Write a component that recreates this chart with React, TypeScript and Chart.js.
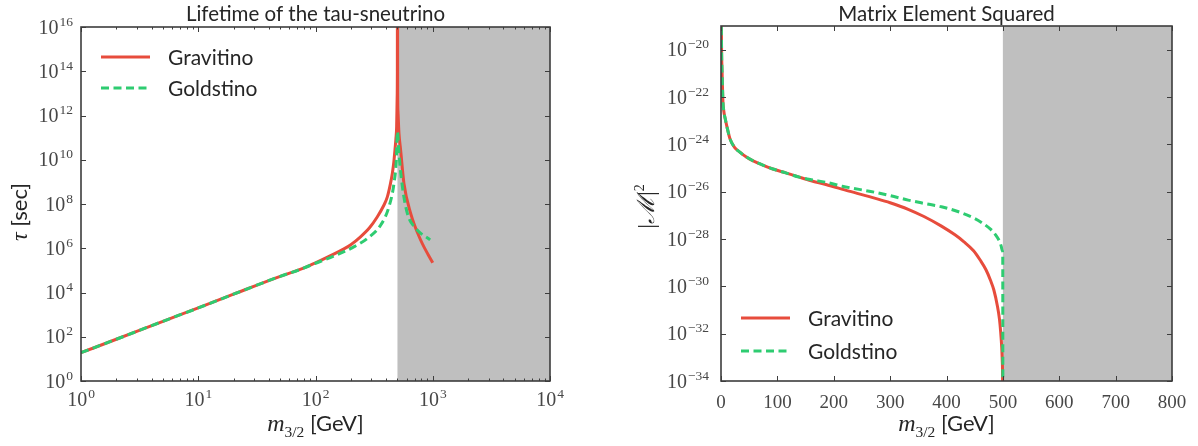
import React, { useEffect, useRef } from "react";
import { Chart, registerables } from "chart.js";

Chart.register(...registerables);

// ---------- Left panel: lifetime of the tau-sneutrino ----------
const leftTitle = "Lifetime of the tau-sneutrino";
const gravitinoMassLeft = [1, 2, 5, 10, 20, 50, 74, 100, 143, 170, 200, 242, 290, 336, 380, 410, 435, 452, 466, 476, 485, 492, 497, 499, 500, 502, 505, 515, 532, 568, 649, 790, 1000];
const gravitinoTau = [1.9e1, 7.7e1, 5.0e2, 2.0e3, 8.4e3, 5.4e4, 1.1e5, 2.2e5, 5.4e5, 8.7e5, 1.45e6, 3.3e6, 8.7e6, 2.6e7, 8.1e7, 2.1e8, 7.9e8, 2.4e9, 8.1e9, 2.75e10, 8.9e10, 3.1e11, 6.3e12, 1e14, 1e20, 1e13, 1.5e12, 1.6e11, 2.8e10, 8.5e8, 3.7e7, 2.3e6, 2.2e5];
const goldstinoMassLeft = [1, 2, 5, 10, 20, 50, 74, 100, 143, 212, 276, 359, 423, 467, 489, 500, 515, 551, 608, 716, 950];
const goldstinoTau = [1.9e1, 7.7e1, 5.0e2, 2.0e3, 8.4e3, 5.4e4, 1.1e5, 2.1e5, 4.4e5, 1.15e6, 2.75e6, 1.1e7, 7.4e7, 8.5e8, 9.8e9, 1.9e11, 1.95e10, 6.0e8, 3.7e7, 7.9e6, 2.4e6];
const leftXMajorTicks = [1, 10, 100, 1000, 10000];
const leftYTicks = [1e0, 1e2, 1e4, 1e6, 1e8, 1e10, 1e12, 1e14, 1e16];
const leftShadeFrom = 500;

// ---------- Right panel: matrix element squared ----------
const rightTitle = "Matrix Element Squared";
const gravitinoMassRight = [0.5, 1, 2, 3.5, 5, 7.5, 11, 16, 24, 34, 45, 57, 75, 92, 115, 139, 160, 186, 227, 274, 300, 332, 360, 391, 415, 431, 448, 460, 470, 478, 484, 490, 494, 496, 498, 499, 499.6, 500];
const gravitinoM2 = [3e-19, 1e-20, 1e-21, 6e-23, 2.5e-23, 1.2e-23, 5e-24, 1.7e-24, 7.5e-25, 4.6e-25, 2.9e-25, 2.0e-25, 1.3e-25, 9.1e-26, 6.2e-26, 4.1e-26, 2.9e-26, 2.0e-26, 1.05e-26, 5.2e-27, 3.4e-27, 1.8e-27, 8.9e-28, 3.5e-28, 1.5e-28, 7.6e-29, 3.2e-29, 1.26e-29, 5e-30, 1.8e-30, 7e-31, 1.6e-31, 4e-32, 1.26e-32, 2.5e-33, 6.3e-34, 5e-35, 1e-40];
const goldstinoMassRight = [0.5, 1, 2, 3.5, 5, 7.5, 11, 16, 24, 34, 45, 57, 75, 92, 115, 139, 160, 186, 215, 245, 274, 300, 332, 360, 391, 420, 449, 465, 478, 488, 494, 497, 499, 499.8, 500];
const goldstinoM2 = [3e-19, 1e-20, 1e-21, 6e-23, 2.5e-23, 1.2e-23, 5e-24, 1.7e-24, 7.5e-25, 4.6e-25, 2.9e-25, 2.0e-25, 1.3e-25, 9.1e-26, 6.2e-26, 4.1e-26, 3.2e-26, 2.5e-26, 1.7e-26, 1.25e-26, 9.3e-27, 6.8e-27, 4.4e-27, 3.2e-27, 2.3e-27, 1.45e-27, 7.6e-28, 4.5e-28, 2.6e-28, 1.4e-28, 8e-29, 5e-29, 3.2e-29, 2e-29, 1e-40];
const rightXTicks = [0, 100, 200, 300, 400, 500, 600, 700, 800];
const rightYTicks = [1e-34, 1e-32, 1e-30, 1e-28, 1e-26, 1e-24, 1e-22, 1e-20];
const rightShadeFrom = 500;

const seriesNames = ["Gravitino", "Goldstino"];
const RED = "#e74c3c";
const GREEN = "#2ecc71";
const SHADE = "#bfbfbf";
const FRAME = "#3d3d3d";
const TEXT = "#262626";
const TICKTEXT = "#474747";
const SERIF = '"Liberation Serif", "DejaVu Serif", serif';
const SANS = 'Lato, "DejaVu Sans", sans-serif';

const isPow10 = (v: number) => v > 0 && Math.abs(Math.log10(v) - Math.round(Math.log10(v))) < 1e-9;
const expText = (v: number) => String(Math.round(Math.log10(v))).replace("-", "−");
const powLabel = (v: number) => "10^" + String(Math.round(Math.log10(v)));

type Run = { t: string; f: string; dy?: number };
function drawRuns(ctx: CanvasRenderingContext2D, runs: Run[], x: number, y: number, rotate: boolean) {
  let w = 0;
  for (const r of runs) { ctx.font = r.f; w += ctx.measureText(r.t).width; }
  ctx.save();
  ctx.translate(x, y);
  if (rotate) ctx.rotate(-Math.PI / 2);
  ctx.fillStyle = TEXT;
  ctx.textBaseline = "alphabetic";
  ctx.textAlign = "left";
  let cx = -w / 2;
  for (const r of runs) { ctx.font = r.f; ctx.fillText(r.t, cx, r.dy || 0); cx += ctx.measureText(r.t).width; }
  ctx.restore();
}

const BASEFONT = `20px ${SERIF}`;
const SUPFONT = `13.5px ${SERIF}`;
function drawPow(ctx: CanvasRenderingContext2D, v: number, x: number, baseline: number, align: "center" | "right") {
  const e = expText(v);
  ctx.font = BASEFONT;
  const wb = ctx.measureText("10").width;
  ctx.font = SUPFONT;
  const we = ctx.measureText(e).width;
  const total = wb + 1 + we;
  const x0 = align === "right" ? x - total : x - total / 2;
  ctx.fillStyle = TICKTEXT;
  ctx.textAlign = "left";
  ctx.textBaseline = "alphabetic";
  ctx.font = BASEFONT;
  ctx.fillText("10", x0, baseline);
  ctx.font = SUPFONT;
  ctx.fillText(e, x0 + wb + 1, baseline - 8);
}

type DecorCfg = {
  title: string;
  shadeFrom: number;
  yTitle: Run[];
  yTitleX: number;
  yTitleDY: number;
  legendTop: boolean;
  isMajorX: (v: number) => boolean;
  powX: boolean;
  yLabelPad: number;
};

const xTitleRuns: Run[] = [
  { t: "m", f: `italic 24px ${SERIF}` },
  { t: "3/2", f: `15.5px ${SERIF}`, dy: 6 },
  { t: " [GeV]", f: `22px ${SANS}` },
];

function makeDecor(cfg: DecorCfg) {
  return {
    id: "decor",
    beforeDatasetsDraw(chart: any) {
      const { ctx, chartArea: a, scales } = chart;
      const px = scales.x.getPixelForValue(cfg.shadeFrom);
      ctx.save();
      ctx.fillStyle = SHADE;
      ctx.fillRect(px, a.top, a.right - px, a.bottom - a.top);
      ctx.restore();
    },
    afterDatasetsDraw(chart: any) {
      const { ctx, chartArea: a, scales } = chart;
      const xs = scales.x;
      const ys = scales.y;
      ctx.save();
      ctx.strokeStyle = FRAME;
      ctx.lineWidth = 1;
      ctx.beginPath();
      for (const t of xs.ticks) {
        const p = Math.round(xs.getPixelForValue(t.value)) + 0.5;
        if (p < a.left - 1 || p > a.right + 1) continue;
        const len = cfg.isMajorX(t.value) ? 5 : 2.5;
        ctx.moveTo(p, a.bottom); ctx.lineTo(p, a.bottom - len);
        ctx.moveTo(p, a.top); ctx.lineTo(p, a.top + len);
      }
      for (const t of ys.ticks) {
        const p = Math.round(ys.getPixelForValue(t.value)) + 0.5;
        if (p < a.top - 1 || p > a.bottom + 1) continue;
        ctx.moveTo(a.left, p); ctx.lineTo(a.left + 5, p);
        ctx.moveTo(a.right, p); ctx.lineTo(a.right - 5, p);
      }
      ctx.stroke();
      ctx.lineWidth = 1.6;
      ctx.strokeRect(a.left, a.top, a.right - a.left, a.bottom - a.top);
      ctx.restore();

      // power-of-ten tick labels, placed from the scales' own ticks
      ctx.save();
      for (const t of ys.ticks) {
        const p = ys.getPixelForValue(t.value);
        drawPow(ctx, t.value, a.left - cfg.yLabelPad, p + 6.5, "right");
      }
      if (cfg.powX) {
        for (const t of xs.ticks) {
          if (!isPow10(t.value)) continue;
          drawPow(ctx, t.value, xs.getPixelForValue(t.value), a.bottom + 25, "center");
        }
      }
      ctx.restore();

      // title
      ctx.save();
      ctx.fillStyle = TEXT;
      ctx.font = `20.5px ${SANS}`;
      ctx.textAlign = "center";
      ctx.textBaseline = "alphabetic";
      ctx.fillText(cfg.title, (a.left + a.right) / 2, 21);
      ctx.restore();

      // axis titles
      drawRuns(ctx, xTitleRuns, (a.left + a.right) / 2, 431, false);
      drawRuns(ctx, cfg.yTitle, cfg.yTitleX, (a.top + a.bottom) / 2 + cfg.yTitleDY, true);

      // legend
      const ds = chart.data.datasets;
      const rowY = cfg.legendTop ? [a.top + 30, a.top + 61] : [a.bottom - 63, a.bottom - 30];
      ctx.save();
      for (let i = 0; i < ds.length; i++) {
        const y = rowY[i];
        ctx.strokeStyle = ds[i].borderColor;
        ctx.lineWidth = 3;
        ctx.setLineDash(ds[i].borderDash || []);
        ctx.beginPath();
        ctx.moveTo(a.left + 20, y);
        ctx.lineTo(a.left + 69, y);
        ctx.stroke();
        ctx.setLineDash([]);
        ctx.fillStyle = TEXT;
        ctx.font = `21px ${SANS}`;
        ctx.textBaseline = "alphabetic";
        ctx.textAlign = "left";
        ctx.fillText(ds[i].label, a.left + 87, y + 7.5);
      }
      ctx.restore();
    },
  };
}

function pts(xs: number[], ys: number[]) {
  return xs.map((x, i) => ({ x, y: ys[i] }));
}

function datasets(gx: number[], gy: number[], sx: number[], sy: number[]) {
  return [
    { label: seriesNames[0], data: pts(gx, gy), borderColor: RED, borderWidth: 3, pointRadius: 0, fill: false, cubicInterpolationMode: "monotone" as const, order: 2 },
    { label: seriesNames[1], data: pts(sx, sy), borderColor: GREEN, borderWidth: 3, borderDash: [8, 4.5], pointRadius: 0, fill: false, cubicInterpolationMode: "monotone" as const, order: 1 },
  ];
}

const tickFont = { family: SERIF, size: 19 };

export default function App() {
  const leftRef = useRef<HTMLCanvasElement>(null);
  const rightRef = useRef<HTMLCanvasElement>(null);

  useEffect(() => {
    const leftXTicks: number[] = [];
    for (const m of leftXMajorTicks) {
      leftXTicks.push(m);
      if (m < 10000) for (let k = 2; k <= 9; k++) leftXTicks.push(m * k);
    }

    const left = new Chart(leftRef.current as HTMLCanvasElement, {
      type: "line",
      data: { datasets: datasets(gravitinoMassLeft, gravitinoTau, goldstinoMassLeft, goldstinoTau) as any },
      options: {
        responsive: false,
        devicePixelRatio: 1,
        animation: false,
        events: [],
        layout: { padding: { left: 0, right: 50, top: 27, bottom: 0 } },
        plugins: { legend: { display: false }, tooltip: { enabled: false }, title: { display: false } },
        scales: {
          x: {
            type: "logarithmic",
            min: 1,
            max: 10000,
            afterBuildTicks: (s: any) => { s.ticks = leftXTicks.map((v) => ({ value: v, major: isPow10(v) })); },
            afterFit: (s: any) => { s.height = 65; },
            ticks: { display: false, autoSkip: false, callback: (v: any) => (isPow10(Number(v)) ? powLabel(Number(v)) : "") },
            grid: { display: false, drawTicks: false },
            border: { display: false },
          },
          y: {
            type: "logarithmic",
            min: 1,
            max: 1e16,
            afterBuildTicks: (s: any) => { s.ticks = leftYTicks.map((v) => ({ value: v })); },
            afterFit: (s: any) => { s.width = 81; },
            ticks: { display: false, autoSkip: false, callback: (v: any) => powLabel(Number(v)) },
            grid: { display: false, drawTicks: false },
            border: { display: false },
          },
        },
      } as any,
      plugins: [makeDecor({
        title: leftTitle,
        shadeFrom: leftShadeFrom,
        yTitle: [{ t: "τ", f: `italic 24px ${SERIF}` }, { t: " [sec]", f: `22px ${SANS}` }],
        yTitleX: 27,
        yTitleDY: 8,
        legendTop: true,
        isMajorX: isPow10,
        powX: true,
        yLabelPad: 8,
      })],
    });

    const right = new Chart(rightRef.current as HTMLCanvasElement, {
      type: "line",
      data: { datasets: datasets(gravitinoMassRight, gravitinoM2, goldstinoMassRight, goldstinoM2) as any },
      options: {
        responsive: false,
        devicePixelRatio: 1,
        animation: false,
        events: [],
        layout: { padding: { left: 0, right: 26, top: 26, bottom: 0 } },
        plugins: { legend: { display: false }, tooltip: { enabled: false }, title: { display: false } },
        scales: {
          x: {
            type: "linear",
            min: 0,
            max: 800,
            afterBuildTicks: (s: any) => { s.ticks = rightXTicks.map((v) => ({ value: v })); },
            afterFit: (s: any) => { s.height = 65; },
            ticks: { autoSkip: false, maxRotation: 0, minRotation: 0, padding: 11, color: TICKTEXT, font: tickFont, callback: (v: any) => String(v) },
            grid: { display: false, drawTicks: false },
            border: { display: false },
          },
          y: {
            type: "logarithmic",
            min: 1e-34,
            max: 1e-19,
            afterBuildTicks: (s: any) => { s.ticks = rightYTicks.map((v) => ({ value: v })); },
            afterFit: (s: any) => { s.width = 121; },
            ticks: { display: false, autoSkip: false, callback: (v: any) => powLabel(Number(v)) },
            grid: { display: false, drawTicks: false },
            border: { display: false },
          },
        },
      } as any,
      plugins: [makeDecor({
        title: rightTitle,
        shadeFrom: rightShadeFrom,
        yTitle: [{ t: "|", f: `24px ${SERIF}` }, { t: "ℳ", f: `italic 24px ${SERIF}` }, { t: "|", f: `24px ${SERIF}` }, { t: "2", f: `14px ${SERIF}`, dy: -10 }],
        yTitleX: 54,
        yTitleDY: 3,
        legendTop: false,
        isMajorX: () => true,
        powX: false,
        yLabelPad: 12,
      })],
    });

    return () => { left.destroy(); right.destroy(); };
  }, []);

  return (
    <div style={{ position: "absolute", left: 0, top: 0, width: 1198, height: 446, background: "#ffffff", overflow: "hidden" }}>
      <canvas ref={leftRef} width={600} height={446} style={{ position: "absolute", left: 0, top: 0, width: 600, height: 446 }} />
      <canvas ref={rightRef} width={598} height={446} style={{ position: "absolute", left: 600, top: 0, width: 598, height: 446 }} />
    </div>
  );
}
